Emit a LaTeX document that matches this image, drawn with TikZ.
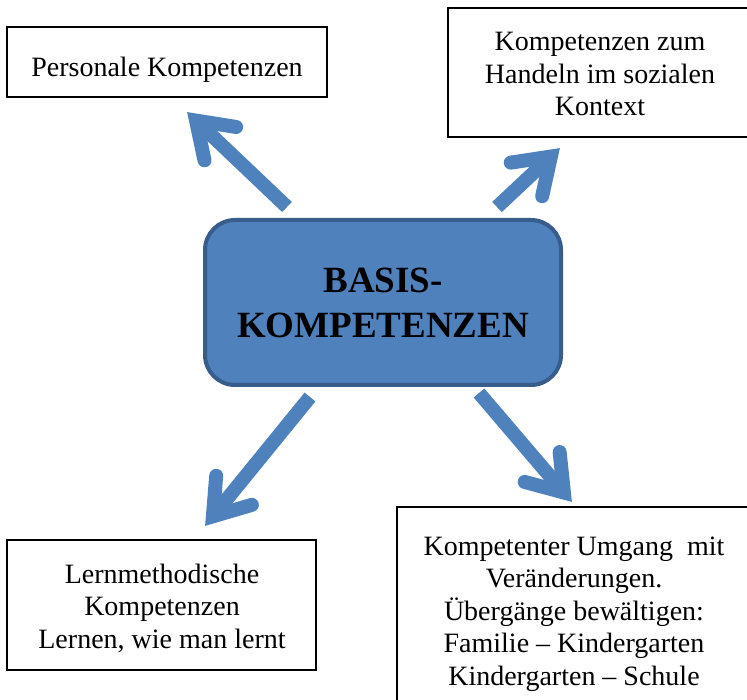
\documentclass[tikz,border=0pt]{standalone}
\usepackage{fontspec}
\setmainfont{Liberation Serif}
\usetikzlibrary{calc}
\definecolor{officeblue}{HTML}{4F81BD}
\definecolor{officeblueedge}{HTML}{385D8A}
\tikzset{
  plainbox/.style={draw=black, line width=1.8pt, fill=white, inner sep=0pt},
  boxtext/.style={inner sep=0pt, align=center, anchor=base, font=\fontsize{28}{32.5}\selectfont},
  centerbox/.style={draw=officeblueedge, line width=4pt, fill=officeblue, rounded corners=30pt, inner sep=0pt},
  centertext/.style={inner sep=0pt, align=center, anchor=base, font=\bfseries\fontsize{37}{45}\selectfont},
  arrowshaft/.style={draw=officeblue, line width=14pt, line cap=butt},
  arrowhead/.style={draw=officeblue, line width=14pt, line cap=round, line join=miter},
}
\newcommand\blockarrow[2]{%
  \draw[arrowshaft] (#1) -- ($(#2)!20pt!(#1)$);
  \draw[arrowhead] ($(#2)!46pt!(#1)!23pt!90:(#2)$) -- ($(#2)!12.5pt!(#1)$) -- ($(#2)!46pt!(#1)!23pt!-90:(#2)$);
}
\begin{document}
\begin{tikzpicture}[x=1pt, y=-1pt]
\useasboundingbox (0,0) rectangle (747,700);
\clip (0,0) rectangle (747,700);
% boxes
\node[plainbox, minimum width=320pt, minimum height=70pt] (b1) at (167,62) {};
\node[plainbox, minimum width=304pt, minimum height=129pt] (b2) at (600,72.5) {};
\node[plainbox, minimum width=309pt, minimum height=130pt] (b3) at (161.5,605) {};
\node[plainbox, minimum width=355pt, minimum height=203pt] (b4) at (574.5,608.5) {};
\node[centerbox, minimum width=356pt, minimum height=165pt] (c) at (383,302.5) {};
% texts (anchor base = baseline of the last line)
\node[boxtext] (t1) at (167,77) {Personale Kompetenzen};
\node[boxtext] (t2) at (600,116) {Kompetenzen zum\\Handeln im sozialen\\Kontext};
\node[boxtext] (t3) at (162,648) {Lernmethodische\\Kompetenzen\\Lernen, wie man lernt};
\node[boxtext] (t4) at (574,685) {Kompetenter Umgang~ mit\\Veränderungen.\\Übergänge bewältigen:\\Familie – Kindergarten\\Kindergarten – Schule};
\node[centertext] (tc) at (383,338) {BASIS-\\KOMPETENZEN};
% arrows
\coordinate (a1s) at (287,207); \coordinate (a1e) at (187,112);
\coordinate (a2s) at (497,207); \coordinate (a2e) at (560,148);
\coordinate (a3s) at (310,397); \coordinate (a3e) at (205,526);
\coordinate (a4s) at (479,393); \coordinate (a4e) at (572,502);
\blockarrow{a1s}{a1e}
\blockarrow{a2s}{a2e}
\blockarrow{a3s}{a3e}
\blockarrow{a4s}{a4e}
\end{tikzpicture}
\end{document}
